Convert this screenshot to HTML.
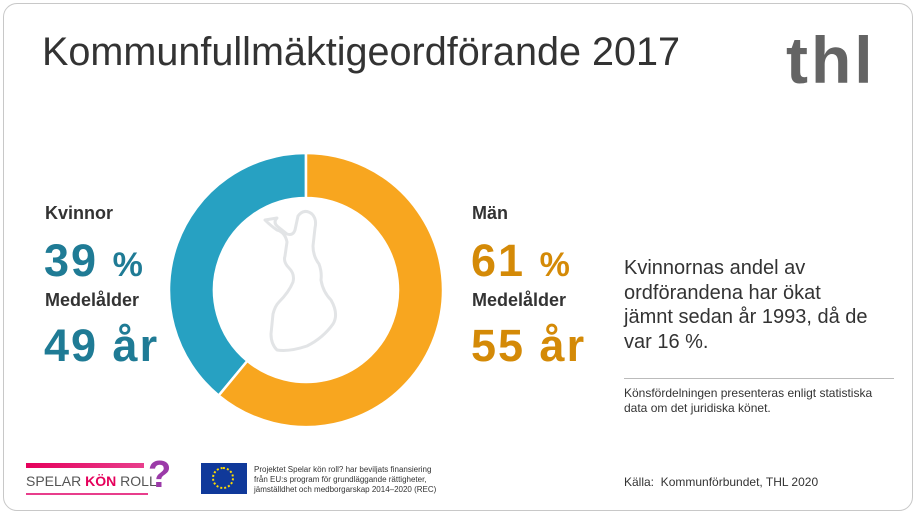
<!DOCTYPE html>
<html><head><meta charset="utf-8"><style>
body{margin:0;width:920px;height:518px;background:#fff;font-family:"Liberation Sans",sans-serif;overflow:hidden;position:relative}
.card{position:absolute;left:3px;top:3px;width:910px;height:508px;border:1px solid #c8c8c8;border-radius:14px;box-sizing:border-box}
.abs{position:absolute;margin:0}
.big{font-size:45px;font-weight:bold;letter-spacing:2px}
</style></head><body>
<div class="card"></div>
<h1 class="abs" style="left:42px;top:30px;font-size:39.6px;font-weight:normal;color:#333">Kommunfullmäktigeordförande 2017</h1>
<div class="abs" style="left:786px;top:22px;font-size:66px;font-weight:bold;color:#646464;letter-spacing:3px">thl</div>

<svg class="abs" style="left:0;top:0" width="920" height="518" id="donut">
  <path d="M277 218 q-4 4 0 8 l10 8 q6 2 8 -4 l3 -14 q6 -8 14 -2 q5 5 3 14 l-2 18 q0 10 6 18 q3 8 2 16 q2 12 10 20 q8 14 2 24 q-10 14 -26 22 q-18 6 -30 4 q-6 -6 -6 -16 l2 -20 q2 -8 6 -12 q10 -10 14 -20 q2 -8 -4 -14 q-6 -6 -4 -12 l2 -14 q-2 -10 -10 -12 q-6 -4 -12 -10 z" fill="none" stroke="#e2e4e6" stroke-width="3" stroke-linejoin="round"/>
</svg>

<div class="abs" style="left:45px;top:203px;font-size:18px;font-weight:bold;color:#333">Kvinnor</div>
<div class="abs big" style="left:44px;top:235px;color:#1f7b95">39 <span style="font-size:34px">%</span></div>
<div class="abs" style="left:45px;top:290px;font-size:18px;font-weight:bold;color:#333">Medelålder</div>
<div class="abs big" style="left:44px;top:320px;color:#1f7b95">49 år</div>

<div class="abs" style="left:472px;top:203px;font-size:18px;font-weight:bold;color:#333">Män</div>
<div class="abs big" style="left:471px;top:235px;color:#d48a07">61 <span style="font-size:34px">%</span></div>
<div class="abs" style="left:472px;top:290px;font-size:18px;font-weight:bold;color:#333">Medelålder</div>
<div class="abs big" style="left:471px;top:320px;color:#d48a07">55 år</div>

<div class="abs" style="left:624px;top:256px;font-size:20px;line-height:24.5px;color:#333;width:270px">Kvinnornas andel av<br>ordförandena har ökat<br>jämnt sedan år 1993, då de<br>var 16 %.</div>
<div class="abs" style="left:624px;top:378px;width:270px;border-top:1px solid #bbb"></div>
<div class="abs" style="left:624px;top:386px;font-size:12px;line-height:15px;color:#333;width:290px">Könsfördelningen presenteras enligt statistiska<br>data om det juridiska könet.</div>
<div class="abs" style="left:624px;top:475px;font-size:12px;color:#333">Källa:&nbsp; Kommunförbundet, THL 2020</div>

<div class="abs" style="left:26px;top:462px;width:150px;height:40px">
  <div style="position:absolute;left:0;top:1px;width:118px;height:5px;background:linear-gradient(90deg,#e5005b,#e83e8c)"></div>
  <div style="position:absolute;left:0;top:11px;font-size:14px;color:#555;white-space:nowrap">SPELAR <b style="color:#e5005b">KÖN</b> ROLL</div>
  <div style="position:absolute;left:0;top:31px;width:122px;height:2px;background:#e83e8c"></div>
  <div style="position:absolute;left:122px;top:-8px;font-size:38px;font-weight:bold;color:#9b3aa8">?</div>
</div>
<div class="abs" style="left:201px;top:463px;width:46px;height:31px;background:#10399a">
  <div style="position:absolute;left:11px;top:4px;width:22px;height:22px;border:2px dotted #ffdd00;border-radius:50%;box-sizing:border-box"></div>
</div>
<div class="abs" style="left:254px;top:465px;font-size:8px;line-height:10px;color:#333;width:200px">Projektet Spelar kön roll? har beviljats finansiering<br>från EU:s program för grundläggande rättigheter,<br>jämställdhet och medborgarskap 2014–2020 (REC)</div>

<script>
const categories=["Män","Kvinnor"];
const shares=[61,39];
const colors=["#f8a61f","#27a1c2"];
const svg=document.getElementById('donut');
const cx=306,cy=290,R=137,r=92;
let start=0;
const total=shares.reduce((a,b)=>a+b,0);
function pt(a,rad){return [cx+rad*Math.sin(a),cy-rad*Math.cos(a)];}
shares.forEach((v,i)=>{
  const a0=start/total*2*Math.PI,a1=(start+v)/total*2*Math.PI;start+=v;
  const large=(a1-a0)>Math.PI?1:0;
  const [x0,y0]=pt(a0,R),[x1,y1]=pt(a1,R),[x2,y2]=pt(a1,r),[x3,y3]=pt(a0,r);
  const p=document.createElementNS('http://www.w3.org/2000/svg','path');
  p.setAttribute('d',`M${x0} ${y0}A${R} ${R} 0 ${large} 1 ${x1} ${y1}L${x2} ${y2}A${r} ${r} 0 ${large} 0 ${x3} ${y3}Z`);
  p.setAttribute('fill',colors[i]);p.setAttribute('stroke','#fff');p.setAttribute('stroke-width','2.5');
  
  
  svg.insertBefore(p,svg.firstChild);
});
</script>
</body></html>
